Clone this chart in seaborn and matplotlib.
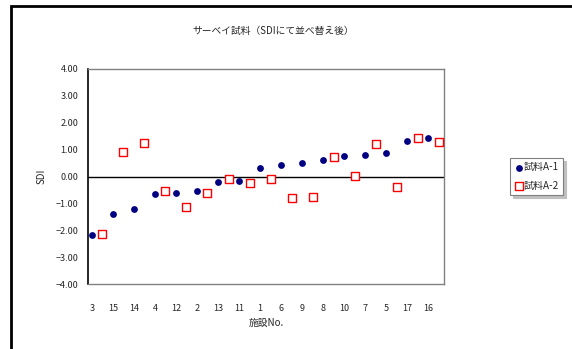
import numpy as np
import pandas as pd
import matplotlib
matplotlib.use("Agg")
import matplotlib.pyplot as plt
import seaborn as sns
from matplotlib.patches import Rectangle

# 施設番号 (SDIで並べ替え後の順)
shisetsu = ["3", "15", "14", "4", "12", "2", "13", "11", "1",
            "6", "9", "8", "10", "7", "5", "17", "16"]
sdi_a1 = [-2.18, -1.40, -1.20, -0.66, -0.62, -0.53, -0.19, -0.15, 0.32,
          0.45, 0.50, 0.61, 0.76, 0.80, 0.88, 1.34, 1.44]
sdi_a2 = [-2.13, 0.90, 1.25, -0.52, -1.14, -0.59, -0.09, -0.22, -0.10,
          -0.80, -0.77, 0.72, 0.04, 1.20, -0.37, 1.44, 1.30]
yticks = [-4, -3, -2, -1, 0, 1, 2, 3, 4]

sns.set_style("white")
plt.rcParams['font.family'] = ['Noto Sans CJK JP', 'DejaVu Sans']
plt.rcParams['font.size'] = 6.5

pos = np.arange(1, len(shisetsu) + 1)
df = pd.DataFrame({"x1": pos, "x2": pos + 0.5, "A1": sdi_a1, "A2": sdi_a2})

fig = plt.figure(figsize=(5.72, 3.49), dpi=100)
ax = fig.add_axes([0.1538, 0.1854, 0.6224, 0.6169])

sns.scatterplot(data=df, x="x1", y="A1", ax=ax, color="#000080", marker="o",
                s=24, edgecolor="#000080", linewidth=0, label="試料A-1", zorder=3)
sns.scatterplot(data=df, x="x2", y="A2", ax=ax, marker="s", s=30,
                facecolor="white", edgecolor="#FF0000", linewidth=1.0,
                label="試料A-2", zorder=3)

ax.axhline(0, color="black", lw=1, zorder=2)
ax.set_xlim(0.82, 17.74)
ax.set_ylim(-4, 4)
ax.set_yticks(yticks)
ax.set_yticklabels([f"{v:.2f}".replace("-", "\u2212") for v in yticks])
ax.set_xticks(pos)
ax.set_xticklabels(shisetsu)
ax.tick_params(axis="x", length=0, pad=14)
ax.tick_params(axis="y", length=0, pad=7)

for side in ["top", "right", "bottom"]:
    ax.spines[side].set_color("#808080")
    ax.spines[side].set_linewidth(1)
ax.spines["left"].set_color("black")
ax.spines["left"].set_linewidth(1.2)

ax.set_xlabel("施設No.", fontsize=7, labelpad=4)
ax.set_ylabel("SDI", fontsize=7, labelpad=6)
ax.set_title("サーベイ試料（SDIにて並べ替え後）", fontsize=7, pad=25, x=0.52)

ax.legend_.remove()
h, l = ax.get_legend_handles_labels()
leg = fig.legend(h, l, loc="upper left", bbox_to_anchor=(0.892, 0.548),
                 frameon=True, fancybox=False, shadow={"color": "#c0c0c0", "alpha": 1},
                 fontsize=7.2, handletextpad=0.1, handlelength=0.8, borderpad=0.45,
                 labelspacing=0.85, borderaxespad=0)
leg.get_frame().set_edgecolor("#808080")
leg.get_frame().set_linewidth(0.8)

fig.patches.append(Rectangle((11 / 572, -0.1), 1.2, 1.1 - 5.5 / 349,
                             transform=fig.transFigure, fill=False,
                             edgecolor="black", lw=2))

fig.savefig("out.png", dpi=100)
